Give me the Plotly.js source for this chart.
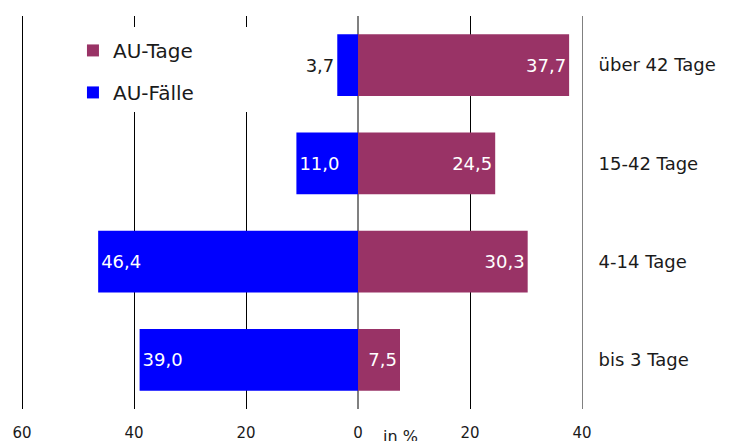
<!DOCTYPE html>
<html>
<head>
<meta charset="utf-8">
<script src="https://cdn.plot.ly/plotly-3.0.1.min.js"></script>
<style>
  html, body { margin: 0; padding: 0; background: #fff; }
  #chart { width: 734px; height: 441px; }
  /* keep the 1px grid lines sharp */
  #chart .shapelayer path { shape-rendering: crispEdges; }
</style>
</head>
<body>
<div id="chart"></div>
<script>
// Dauer der Arbeitsunfähigkeit, Anteile in %
const categories = ['über 42 Tage', '15-42 Tage', '4-14 Tage', 'bis 3 Tage'];
const auTage = [37.7, 24.5, 30.3, 7.5];
const auFaelle = [3.7, 11.0, 46.4, 39.0];
const xTickVals = [-60, -40, -20, 0, 20, 40];
const xTickText = ['60', '40', '20', '0', '20', '40'];

const FONT = 'DejaVu Sans, Verdana, sans-serif';
const TEXT_COLOR = '#1a1a1a';
const fmt = v => v.toFixed(1).replace('.', ',');

const common = {
  type: 'bar',
  orientation: 'h',
  y: categories,
  textposition: 'auto',
  insidetextanchor: 'end',
  constraintext: 'none',
  cliponaxis: false,
  textangle: 0,
  insidetextfont: { family: FONT, size: 18, color: '#ffffff' },
  outsidetextfont: { family: FONT, size: 18, color: TEXT_COLOR },
  hoverinfo: 'skip'
};

const traces = [
  Object.assign({}, common, {
    name: 'AU-Tage',
    legendgroup: 'tage',
    x: auTage,
    text: auTage.map(fmt),
    marker: { color: '#993366', line: { width: 0 } }
  }),
  Object.assign({}, common, {
    name: 'AU-Fälle',
    legendgroup: 'faelle',
    x: auFaelle.map(v => -v),
    text: auFaelle.map(fmt),
    marker: { color: '#0000ff', line: { width: 0 } }
  })
];

// vertical grid lines at the tick values (zero is drawn by the axis itself)
const gridShapes = xTickVals.filter(v => v !== 0).map(v => ({
  type: 'line', layer: 'below',
  xref: 'x', yref: 'paper',
  x0: v, x1: v, y0: 0, y1: 1,
  line: { color: '#000000', width: 1 }
}));

// white panel behind the legend, hiding the grid there
const legendPanel = {
  type: 'rect', layer: 'below',
  xref: 'paper', yref: 'paper',
  x0: 0.085, x1: 0.43, y0: 0.756, y1: 0.972,
  fillcolor: '#ffffff', line: { width: 0 }
};

const layout = {
  width: 734,
  height: 441,
  margin: { l: 22, r: 152, t: 16, b: 32 },
  paper_bgcolor: '#ffffff',
  plot_bgcolor: 'rgba(0,0,0,0)',
  barmode: 'relative',
  bargap: 0.37,
  font: { family: FONT, color: TEXT_COLOR },
  showlegend: true,
  legend: {
    x: 0.091, y: 0.962, xanchor: 'left', yanchor: 'top',
    bgcolor: 'rgba(0,0,0,0)',
    borderwidth: 0,
    traceorder: 'grouped',
    tracegroupgap: 13,
    font: { family: FONT, size: 20, color: TEXT_COLOR }
  },
  xaxis: {
    range: [-60, 40],
    tickvals: xTickVals,
    ticktext: xTickText,
    showgrid: false,
    zeroline: true,
    zerolinecolor: '#808080',
    zerolinewidth: 2,
    showline: false,
    ticks: '',
    ticklabelstandoff: 13,
    tickfont: { family: FONT, size: 15, color: TEXT_COLOR },
    fixedrange: true
  },
  yaxis: {
    type: 'category',
    autorange: 'reversed',
    side: 'right',
    showgrid: false,
    zeroline: false,
    showline: true,
    linecolor: '#808080',
    linewidth: 1,
    ticks: '',
    ticklabelstandoff: 12,
    tickfont: { family: FONT, size: 18, color: TEXT_COLOR },
    fixedrange: true
  },
  shapes: gridShapes.concat([legendPanel]),
  annotations: [{
    text: 'in %',
    xref: 'paper', yref: 'paper',
    x: 0.675, y: -0.071, xanchor: 'center', yanchor: 'middle',
    showarrow: false,
    font: { family: FONT, size: 16, color: TEXT_COLOR }
  }]
};

Plotly.newPlot('chart', traces, layout, { displayModeBar: false, staticPlot: true });
</script>
</body>
</html>
